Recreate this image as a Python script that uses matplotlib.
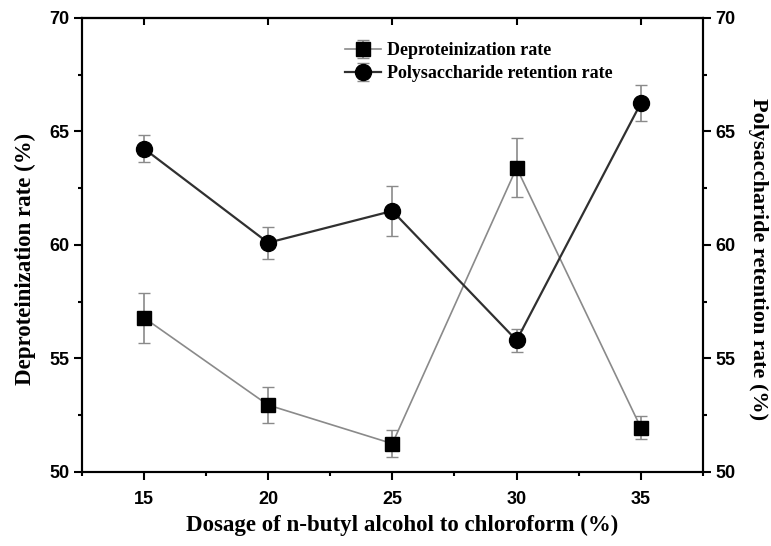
import matplotlib
matplotlib.use("Agg")
import matplotlib.pyplot as plt
from matplotlib.ticker import MultipleLocator

dosage = [15, 20, 25, 30, 35]
deprot = [56.8, 52.95, 51.25, 63.4, 51.95]
deprot_err = [1.1, 0.8, 0.6, 1.3, 0.5]
poly = [64.25, 60.1, 61.5, 55.8, 66.25]
poly_err = [0.6, 0.7, 1.1, 0.5, 0.8]

serif = ["Liberation Serif", "DejaVu Serif"]
sans = ["Liberation Sans", "DejaVu Sans"]

fig = plt.figure(figsize=(7.71, 5.46), dpi=100)
ax = fig.add_axes([81.7/771, 1-472/546, (703-81.7)/771, (472-18)/546])
ax2 = ax.twinx()

l1 = ax.errorbar(dosage, deprot, yerr=deprot_err, color="#8a8a8a", lw=1.2,
                 marker="s", ms=10, mfc="black", mec="black", ecolor="#8a8a8a",
                 elinewidth=1.2, capsize=4, capthick=1.0,
                 label="Deproteinization rate", zorder=3)
l2 = ax2.errorbar(dosage, poly, yerr=poly_err, color="#303030", lw=1.6,
                  marker="o", ms=11.5, mfc="black", mec="black", ecolor="#8a8a8a",
                  elinewidth=1.2, capsize=4, capthick=1.0,
                  label="Polysaccharide retention rate", zorder=3)

for a in (ax, ax2):
    a.set_ylim(50, 70)
    a.yaxis.set_major_locator(MultipleLocator(5))
    a.yaxis.set_minor_locator(MultipleLocator(2.5))
    for s in a.spines.values():
        s.set_linewidth(1.5)
ax.set_xlim(12.5, 37.5)
ax.xaxis.set_major_locator(MultipleLocator(5))
ax.xaxis.set_minor_locator(MultipleLocator(2.5))

ax.tick_params(axis="x", which="major", direction="out", length=6, width=1.5, top=False, pad=8)
ax.tick_params(axis="x", which="minor", direction="out", length=3, width=1.5, top=False)
ax.tick_params(axis="y", which="major", direction="out", length=6, width=1.5, pad=3)
ax.tick_params(axis="y", which="minor", direction="out", length=3, width=1.5)
ax2.tick_params(axis="y", which="major", direction="out", length=6, width=1.5, pad=3)
ax2.tick_params(axis="y", which="minor", direction="out", length=3, width=1.5)

for a in (ax, ax2):
    for lab in a.get_xticklabels() + a.get_yticklabels():
        lab.set_fontfamily(sans)
        lab.set_fontweight("bold")
        lab.set_fontsize(13)

# top inward major ticks
sec = ax.secondary_xaxis("top")
sec.xaxis.set_major_locator(MultipleLocator(5))
sec.tick_params(axis="x", which="major", direction="in", length=5, width=1.5, labeltop=False)
sec.spines["top"].set_linewidth(1.5)

ax.set_xlabel("Dosage of n-butyl alcohol to chloroform (%)", fontfamily=serif,
              fontweight="bold", fontsize=16.5, va="center")
ax.xaxis.set_label_coords(0.515, -0.117)
ax.set_ylabel("Deproteinization rate (%)", fontfamily=serif, fontweight="bold",
              fontsize=16.5, va="center", ha="center")
ax.yaxis.set_label_coords(-0.091, 0.47)
ax2.set_ylabel("Polysaccharide retention rate (%)", fontfamily=serif, fontweight="bold",
               fontsize=16, rotation=270, va="center", ha="center")
ax2.yaxis.set_label_coords(1.089, 0.47)

leg = fig.legend(handles=[l1, l2], loc="upper left", bbox_to_anchor=(336/771, 1-33/546),
                 frameon=False, prop={"family": serif, "weight": "bold", "size": 13},
                 handlelength=2.0, handletextpad=0.3, labelspacing=0.35, borderpad=0)

fig.savefig("out.png", dpi=100)
